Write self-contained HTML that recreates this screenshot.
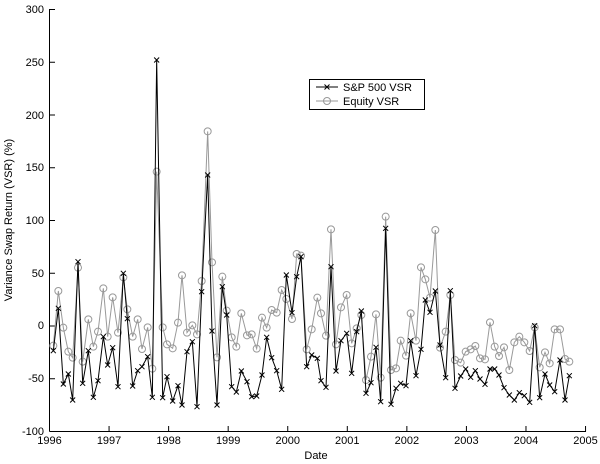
<!DOCTYPE html>
<html><head><meta charset="utf-8"><style>
html,body{margin:0;padding:0;background:#fff;width:600px;height:464px;overflow:hidden}
svg{display:block}
text{font-family:"Liberation Sans",sans-serif;font-size:11px;fill:#000}
</style></head><body>
<svg id="s" width="600" height="464" viewBox="0 0 600 464">
<g stroke="#000" stroke-width="1" fill="none">
<line x1="49.5" y1="9" x2="49.5" y2="431.5"/>
<line x1="49.5" y1="431.5" x2="586" y2="431.5"/>
</g>
<g id="ticks" stroke="#000" stroke-width="1"></g>
<g text-anchor="end">
<text x="44" y="13">300</text>
<text x="44" y="66">250</text>
<text x="44" y="119">200</text>
<text x="44" y="171">150</text>
<text x="44" y="224">100</text>
<text x="44" y="277">50</text>
<text x="44" y="329">0</text>
<text x="44" y="382">-50</text>
<text x="44" y="435">-100</text>
</g>
<g text-anchor="middle" id="xl"></g>
<text x="316" y="459" text-anchor="middle">Date</text>
<text transform="translate(12,220) rotate(-90)" text-anchor="middle">Variance Swap Return (VSR) (%)</text>
<g id="eq"></g>
<g id="sp"></g>
<rect x="309.5" y="79.5" width="115" height="30" fill="#fff" stroke="#000"/>
<line x1="316" y1="87" x2="338" y2="87" stroke="#000"/>
<path d="M324.5,84.5l5,5M329.5,84.5l-5,5" stroke="#000"/>
<line x1="316" y1="101" x2="338" y2="101" stroke="#999"/>
<circle cx="327" cy="101" r="3.5" fill="none" stroke="#999"/>
<text x="343" y="91">S&amp;P 500 VSR</text>
<text x="343" y="105">Equity VSR</text>
</svg>
<script>
var NS="http://www.w3.org/2000/svg";
function el(t,a,p){var e=document.createElementNS(NS,t);for(var k in a)e.setAttribute(k,a[k]);p.appendChild(e);return e;}
var tk=document.getElementById("ticks"),xl=document.getElementById("xl");
for(var i=0;i<=9;i++){var x=49.5+i*59.56;el("line",{x1:x,y1:431.5,x2:x,y2:426},tk);var t=el("text",{x:x,y:444},xl);t.textContent=1996+i;}
for(var j=0;j<=8;j++){var y=431.5-j*52.75;el("line",{x1:49.5,y1:y,x2:55,y2:y},tk);}
var sp1=[[160,1052],[175,925],[190,1152],[205,1122],[218,1200],[234,785],[248,1150],[265,1052],[280,1192],[294,1142],[310,1010],[323,1095],[338,1043],[354,1160],[370,820],[382,956],[398,1158],[413,1112],[426,1100],[443,1070],[457,1192],[470,180],[488,1193],[501,1130],[518,1203],[534,1157],[546,1215],[561,1055],[577,1025],[591,1220],[605,875],[623,525],[636,993],[651,1215],[667,860],[680,945],[695,1160],[709,1176],[724,1113],[741,1145],[755,1190],[770,1188],[786,1125],[800,1012],[815,1073],[830,1112],[845,1168],[859,825],[876,938],[890,830]];
var sp2=[[3,770],[20,1100],[35,1065],[52,1075],[63,1142],[78,1162],[93,800],[108,1113],[123,1022],[140,1000],[155,1120],[170,995],[184,933],[198,1180],[213,1148],[228,1042],[242,1205],[257,685],[273,1213],[288,1165],[302,1150],[318,1157],[332,1022],[348,1127],[363,1048],[376,900],[390,937],[406,873],[420,1035],[437,1133],[451,872],[465,1165],[482,1128],[497,1107],[512,1132],[526,1112],[540,1137],[555,1153],[570,1107],[584,1107],[597,1125],[612,1163],[628,1185],[643,1200],[658,1178],[673,1187],[689,1207],[704,977],[719,1193],[735,1122],[749,1155],[764,1175],[780,1080],[795,1200],[808,1127]];
var eq1=[[160,1037],[175,873],[190,983],[205,1055],[218,1073],[234,803],[248,1085],[265,958],[280,1040],[294,995],[310,865],[323,1010],[338,892],[354,998],[370,832],[382,928],[398,1010],[413,958],[426,1047],[443,982],[457,1106],[470,515],[488,982],[501,1033],[518,1045],[534,968],[546,826],[561,998],[577,976],[591,1003],[605,843],[623,394],[636,787],[651,1072],[667,830],[680,932],[695,1012],[709,1040],[724,940],[741,1006],[755,1003],[770,1046],[786,953],[800,983],[815,930],[830,938],[845,870],[859,897],[876,957],[890,762]];
var eq2=[[3,767],[20,1048],[35,988],[52,893],[63,940],[78,1007],[93,688],[108,1033],[123,922],[140,885],[155,1030],[170,985],[184,945],[198,1140],[213,1070],[228,943],[242,1133],[257,650],[273,1110],[288,1105],[302,1022],[318,1067],[332,940],[348,1022],[363,802],[376,838],[390,893],[406,690],[420,1043],[437,995],[451,885],[465,1080],[482,1088],[497,1055],[512,1048],[526,1038],[540,1075],[555,1078],[570,967],[584,1040],[597,1068],[612,1042],[628,1110],[643,1027],[658,1010],[673,1027],[689,1053],[704,982],[719,1102],[735,1057],[749,1090],[764,988],[780,988],[795,1077],[808,1085]];
function conv(a,b){var r=[];a.forEach(function(p){r.push([p[0]/3,p[1]/3]);});b.forEach(function(p){r.push([300+p[0]/3,p[1]/3]);});return r;}
var sp=conv(sp1,sp2),eq=conv(eq1,eq2);
var ge=document.getElementById("eq"),gs=document.getElementById("sp");
el("polyline",{points:eq.map(function(p){return p.join(",")}).join(" "),fill:"none",stroke:"#999","stroke-width":1},ge);
eq.forEach(function(p){el("circle",{cx:p[0],cy:p[1],r:3.5,fill:"none",stroke:"#999","stroke-width":1},ge);});
el("polyline",{points:sp.map(function(p){return p.join(",")}).join(" "),fill:"none",stroke:"#000","stroke-width":1},gs);
sp.forEach(function(p){var d=2.5;el("path",{d:"M"+(p[0]-d)+","+(p[1]-d)+"l"+2*d+","+2*d+"M"+(p[0]+d)+","+(p[1]-d)+"l"+(-2*d)+","+2*d,stroke:"#000","stroke-width":1},gs);});
</script>
</body></html>
